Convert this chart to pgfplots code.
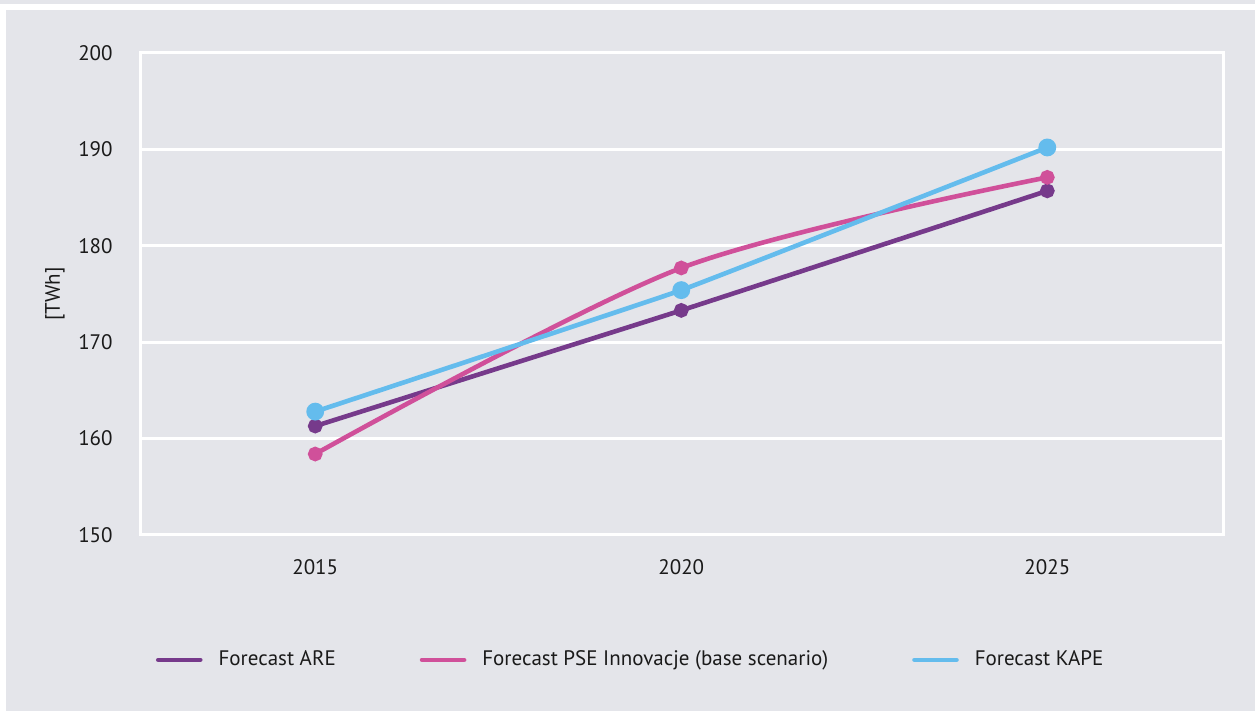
\documentclass[border=0pt]{standalone}
\usepackage{pgfplots}
\pgfplotsset{compat=1.18}
\usepackage{fontspec}
\setmainfont{PT Sans}
\definecolor{bg}{HTML}{E4E5EA}
\definecolor{are}{HTML}{763A8B}
\definecolor{pse}{HTML}{D0509A}
\definecolor{kape}{HTML}{64BCED}
\definecolor{txt}{HTML}{1A1A1A}
\begin{document}
\begin{tikzpicture}
\useasboundingbox (0,0) rectangle (627.5pt,355.5pt);
\fill[white] (0,0) rectangle (627.5pt,355.5pt);
\fill[bg] (3pt,0) rectangle (627.5pt,350.5pt);
\fill[bg] (0,353.5pt) rectangle (627.5pt,355.5pt);
\begin{axis}[
  at={(70.5pt,88pt)}, anchor=south west,
  scale only axis, width=541pt, height=241pt,
  xmin=2012.62, xmax=2027.4, ymin=150, ymax=200,
  xtick={2015,2020,2025}, ytick={150,160,...,200},
  axis line style={white, line width=1.5pt},
  ymajorgrids, grid style={white, line width=1.5pt},
  major tick length=0pt,
  /pgf/number format/assume math mode=true,
  /pgf/number format/1000 sep={},
  tick label style={font=\fontsize{10.5}{12}\selectfont, text=txt},
  yticklabel style={inner sep=0pt, xshift=-14pt},
  xticklabel style={inner sep=0pt, yshift=-12pt},
  ylabel={[TWh]},
  ylabel style={at={(axis description cs:-0.0795,0.5)}, anchor=center, font=\fontsize{10.5}{12}\selectfont, text=txt},
  legend style={at={(rel axis cs:0.4535,-0.259)}, anchor=center, draw=none, fill=none,
    font=\fontsize{10.5}{12}\selectfont, text=txt,
    /tikz/every odd column/.append style={column sep=6pt},
    /tikz/every even column/.append style={column sep=40pt}},
  legend columns=3,
  legend image code/.code={\draw[#1, line width=2.3pt, line cap=round, mark=none] (0pt,0pt) -- (21pt,0pt);},
]
\addplot[are, line width=2.3pt, smooth, tension=0.15, mark=*, mark size=2.5pt] coordinates {(2015,161.3) (2020,173.3) (2025,185.7)};
\addlegendentry{Forecast ARE}
\addplot[pse, line width=2.3pt, smooth, tension=0.5, mark=*, mark size=2.5pt] coordinates {(2015,158.4) (2020,177.7) (2025,187.1)};
\addlegendentry{Forecast PSE Innovacje (base scenario)}
\addplot[kape, line width=2.3pt, smooth, tension=0.15, mark=*, mark size=3.3pt] coordinates {(2015,162.8) (2020,175.4) (2025,190.2)};
\addlegendentry{Forecast KAPE}
\end{axis}
\end{tikzpicture}
\end{document}
